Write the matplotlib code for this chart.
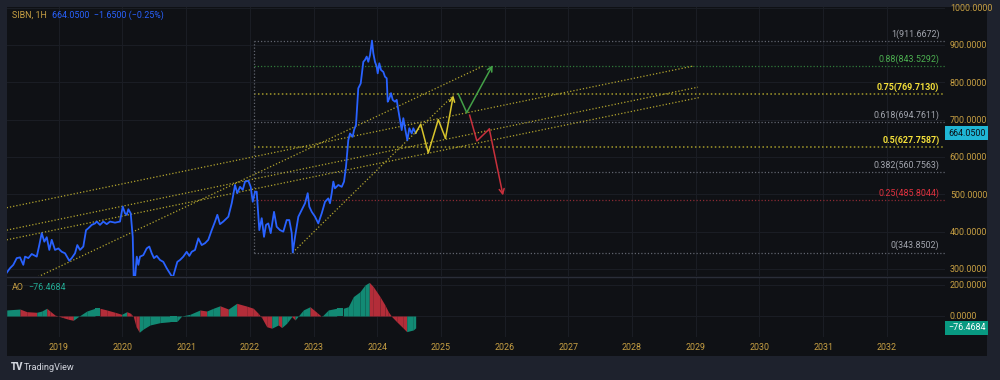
import matplotlib
matplotlib.use('Agg')
import matplotlib.pyplot as plt
import matplotlib.transforms as mtransforms
from matplotlib.lines import Line2D

plt.rcParams['font.family'] = ['Roboto', 'DejaVu Sans']

# ---------------- data ----------------
price_years = [2018.184, 2018.235, 2018.287, 2018.341, 2018.392, 2018.444, 2018.471, 2018.523, 2018.576, 2018.655,
               2018.695, 2018.733, 2018.774, 2018.812, 2018.852, 2018.890, 2018.942, 2018.994, 2019.047, 2019.099,
               2019.166, 2019.204, 2019.256, 2019.292, 2019.334, 2019.386, 2019.429, 2019.465, 2019.518, 2019.570,
               2019.597, 2019.648, 2019.700, 2019.754, 2019.805, 2019.884, 2019.962, 2020.005, 2020.041, 2020.068,
               2020.093, 2020.130, 2020.162, 2020.182, 2020.225, 2020.250, 2020.276, 2020.328, 2020.381, 2020.422,
               2020.460, 2020.496, 2020.538, 2020.590, 2020.642, 2020.695, 2020.747, 2020.790, 2020.826, 2020.862,
               2020.904, 2020.956, 2021.009, 2021.050, 2021.088, 2021.140, 2021.192, 2021.245, 2021.297, 2021.348,
               2021.402, 2021.454, 2021.490, 2021.532, 2021.584, 2021.663, 2021.716, 2021.768, 2021.804, 2021.846,
               2021.889, 2021.925, 2021.977, 2022.014, 2022.046, 2022.082, 2022.108, 2022.149, 2022.187, 2022.223,
               2022.254, 2022.290, 2022.328, 2022.380, 2022.422, 2022.474, 2022.526, 2022.579, 2022.620, 2022.658,
               2022.674, 2022.710, 2022.762, 2022.815, 2022.867, 2022.909, 2022.934, 2022.972, 2023.024, 2023.075,
               2023.129, 2023.181, 2023.232, 2023.259, 2023.286, 2023.311, 2023.337, 2023.389, 2023.443, 2023.479,
               2023.510, 2023.546, 2023.573, 2023.615, 2023.636, 2023.667, 2023.703, 2023.741, 2023.782, 2023.808,
               2023.835, 2023.860, 2023.887, 2023.918, 2023.939, 2023.965, 2023.992, 2024.008, 2024.033, 2024.060,
               2024.096, 2024.122, 2024.149, 2024.165, 2024.190, 2024.217, 2024.243, 2024.279, 2024.306, 2024.331,
               2024.358, 2024.385, 2024.410, 2024.437, 2024.473, 2024.504, 2024.542, 2024.567, 2024.604]
price_values = [290, 302, 311, 329, 331, 311, 333, 329, 340, 333,
                364, 396, 373, 385, 351, 378, 351, 355, 346, 342,
                322, 329, 342, 364, 351, 360, 404, 409, 418, 422,
                427, 418, 427, 420, 427, 424, 427, 467, 449, 445,
                460, 449, 386, 240, 333, 311, 333, 337, 355, 360,
                342, 329, 335, 324, 319, 302, 288, 276, 297, 319,
                324, 333, 346, 335, 346, 351, 382, 364, 369, 378,
                404, 427, 445, 420, 427, 440, 476, 525, 503, 520,
                512, 534, 536, 520, 480, 507, 507, 404, 436, 386,
                418, 422, 396, 453, 413, 404, 400, 431, 431, 396,
                344, 386, 440, 458, 476, 503, 467, 453, 440, 422,
                449, 480, 489, 476, 503, 534, 516, 525, 520, 534,
                574, 645, 663, 654, 672, 686, 784, 797, 855, 860,
                869, 855, 873, 911.67, 878, 855, 842, 824, 851, 833,
                828, 815, 811, 748, 757, 771, 753, 748, 753, 726,
                699, 672, 704, 677, 645, 677, 663, 677, 664.05]

ao_years = [2018.184, 2018.392, 2018.498, 2018.655, 2018.733, 2018.812, 2018.863, 2018.942, 2019.072, 2019.151,
            2019.229, 2019.308, 2019.440, 2019.570, 2019.648, 2019.754, 2019.884, 2019.989, 2020.068, 2020.130,
            2020.171, 2020.214, 2020.265, 2020.328, 2020.433, 2020.590, 2020.747, 2020.852, 2020.931, 2021.061,
            2021.218, 2021.323, 2021.427, 2021.532, 2021.663, 2021.794, 2021.951, 2022.055, 2022.133, 2022.187,
            2022.265, 2022.344, 2022.447, 2022.501, 2022.579, 2022.658, 2022.710, 2022.762, 2022.840, 2022.945,
            2023.050, 2023.129, 2023.232, 2023.364, 2023.468, 2023.546, 2023.625, 2023.730, 2023.808, 2023.876,
            2023.939, 2024.044, 2024.122, 2024.174, 2024.228, 2024.306, 2024.410, 2024.463, 2024.567, 2024.604]
ao_values = [39, 45, 28, 24, 32, 50, 32, 6, -11, -21,
             -28, -4, 32, 50, 50, 39, 24, 11, 28, 17,
             -4, -69, -105, -84, -58, -43, -37, -37, 0, 11,
             39, 32, 50, 66, 45, 82, 64, 50, 17, -11,
             -69, -79, -58, -75, -47, -4, -26, 0, 39, 60,
             24, -4, 39, 50, 50, 60, 125, 157, 200, 217,
             189, 125, 71, 28, -4, -37, -79, -101, -90, -76.4684]

fib_ratio_labels = ['1', '0.88', '0.75', '0.618', '0.5', '0.382', '0.25', '0']
fib_prices = [911.6672, 843.5292, 769.7130, 694.7611, 627.7587, 560.7563, 485.8044, 343.8502]
fib_start_year = 2022.066

# trend lines: (start_year, start_price, end_year, end_price)
trend_lines = [
    (2018.184, 464, 2028.958, 843.5),
    (2018.184, 404, 2029.036, 787),
    (2018.184, 378, 2029.078, 760),
    (2018.675, 279, 2025.661, 843.5),
    (2022.674, 344, 2025.195, 765),
]

yellow_years = [2024.604, 2024.683, 2024.802, 2024.959, 2025.072, 2025.195]
yellow_prices = [664.05, 688, 611, 700, 650, 765]
green_years = [2025.273, 2025.405, 2025.813]
green_prices = [769, 719, 846]
red_years = [2025.451, 2025.565, 2025.760, 2025.975]
red_prices = [712, 643, 675, 497]

year_ticks = list(range(2019, 2033))
price_ticks = [300, 400, 500, 600, 700, 800, 900, 1000]
ao_ticks = [0, 200]
last_price = 664.05
last_ao = -76.4684

# ---------------- style ----------------
W, H = 1000, 380
FRAME = '#1e222d'
PANEL = '#0f1115'
GRID = '#1a1d24'
GOLD = '#c8a043'
BLUE = '#2962ff'
TREND = '#b3a52e'
DOT = (0, (1, 1.6))
fib_line_colors = ['#60646e', '#2f7a39', '#a39a2a', '#60646e', '#a39a2a', '#60646e', '#8a2a33', '#60646e']
fib_label_colors = ['#a3a6af', '#4caf50', '#f5e13a', '#a3a6af', '#f5e13a', '#a3a6af', '#e2323f', '#a3a6af']
fib_bold = [False, False, True, False, True, False, False, False]
FS = 6.4

fig = plt.figure(figsize=(W / 100, H / 100), dpi=100)
fig.patch.set_facecolor(FRAME)


def box(x0, y0, x1, y1):
    return [x0 / W, 1 - y1 / H, (x1 - x0) / W, (y1 - y0) / H]


bg = fig.add_axes(box(7, 7, 987, 356))
bg.set_facecolor(PANEL)
bg.set_xticks([])
bg.set_yticks([])
for s in bg.spines.values():
    s.set_visible(False)

ax = fig.add_axes(box(7, 7, 945, 276))
ao = fig.add_axes(box(7, 277, 945, 337))
XL = (2018.188, 2032.914)
for a in (ax, ao):
    a.set_facecolor('none')
    for s in a.spines.values():
        s.set_visible(False)
    a.set_xlim(*XL)
    a.set_xticks(year_ticks)
    a.grid(True, color=GRID, lw=0.8)
    a.set_axisbelow(True)
    a.yaxis.tick_right()
    a.tick_params(length=0, labelcolor=GOLD, labelsize=FS)
    a.tick_params(axis='y', pad=3.5)
ax.tick_params(axis='x', labelbottom=False)
ax.set_ylim(281.1, 1001.8)
ax.set_yticks(price_ticks)
ax.set_yticklabels([f'{v:.4f}' for v in price_ticks])
ao.set_ylim(-135.5, 251.6)
ao.set_yticks(ao_ticks)
ao.set_yticklabels([f'{v:.4f}' for v in ao_ticks])
ao.set_xticklabels([str(y) for y in year_ticks])
ao.tick_params(axis='x', pad=4.5)

# pane separator
fig.add_artist(Line2D([7 / W, 987 / W], [1 - 276.5 / H] * 2, color='#2a2e39', lw=1))

# fib retracement
for lab, p, lc, tc, b in zip(fib_ratio_labels, fib_prices, fib_line_colors, fib_label_colors, fib_bold):
    ax.plot([fib_start_year, XL[1]], [p, p], color=lc, lw=1.1 if b else 0.9, ls=DOT)
    ax.annotate(f'{lab}({p:.4f})', xy=(XL[1], p), xytext=(-4, 1.5), textcoords='offset points',
                ha='right', va='bottom', color=tc, fontsize=FS, fontweight='bold' if b else 'normal')
ax.plot([fib_start_year, fib_start_year], [fib_prices[-1], fib_prices[0]], color='#60646e', lw=0.9, ls=DOT)

# trend lines
for x0, y0, x1, y1 in trend_lines:
    ax.plot([x0, x1], [y0, y1], color=TREND, lw=0.9, ls=DOT)

# price
ax.plot(price_years, price_values, color=BLUE, lw=1.3, solid_joinstyle='round')


def path(xs, ys, c):
    ax.plot(xs[:-1], ys[:-1], color=c, lw=1.1)
    ax.annotate('', xy=(xs[-1], ys[-1]), xytext=(xs[-2], ys[-2]),
                arrowprops=dict(arrowstyle='->,head_length=0.35,head_width=0.18', color=c, lw=1.1,
                                shrinkA=0, shrinkB=0))


path(yellow_years, yellow_prices, '#d8c52c')
path(green_years, green_prices, '#43a047')
path(red_years, red_prices, '#c8303c')

# AO histogram
G, R = '#128a74', '#b32d39'
for i in range(1, len(ao_years)):
    c = G if ao_values[i] >= ao_values[i - 1] else R
    ao.fill_between(ao_years[i - 1:i + 1], ao_values[i - 1:i + 1], 0, color=c, lw=0)

# price / AO labels on axis
tr = mtransforms.blended_transform_factory(ax.transAxes, ax.transData)
ax.text(1 + 3 / 938, last_price, f'{last_price:.4f}', transform=tr, ha='left', va='center',
        fontsize=FS, color='#0b0e14', clip_on=False,
        bbox=dict(boxstyle='square,pad=0.3', fc='#1fb6d5', ec='none'))
tr2 = mtransforms.blended_transform_factory(ao.transAxes, ao.transData)
ao.text(1 + 3 / 938, last_ao, f'\u2212{abs(last_ao):.4f}', transform=tr2, ha='left', va='center',
        fontsize=FS, color='white', clip_on=False,
        bbox=dict(boxstyle='square,pad=0.3', fc='#089981', ec='none'))

# headers
fig.text(12 / W, 1 - 15 / H, 'SIBN, 1H', color=GOLD, fontsize=FS, va='center')
fig.text(52 / W, 1 - 15 / H, '664.0500  \u22121.6500 (\u22120.25%)', color=BLUE, fontsize=FS, va='center')
fig.text(12 / W, 1 - 287 / H, 'AO', color=GOLD, fontsize=FS, va='center')
fig.text(28 / W, 1 - 287 / H, '\u221276.4684', color='#22ab94', fontsize=FS, va='center')
fig.text(11 / W, 1 - 367 / H, 'TV', color='#d1d4dc', fontsize=7, fontweight='heavy', va='center')
fig.text(24 / W, 1 - 367 / H, 'TradingView', color='#d1d4dc', fontsize=6.6, va='center')

fig.savefig('out.png', dpi=100, facecolor=FRAME)
